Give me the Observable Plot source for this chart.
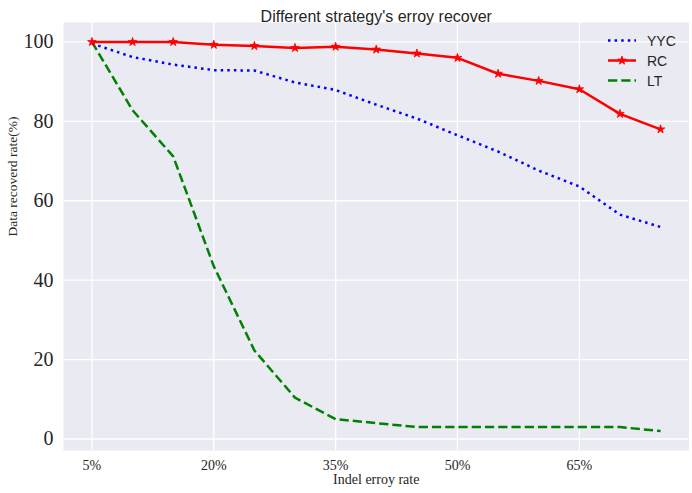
<!DOCTYPE html>
<html>
<head>
<meta charset="utf-8">
<script src="https://cdn.jsdelivr.net/npm/d3@7"></script>
<script src="https://cdn.jsdelivr.net/npm/@observablehq/plot@0.6"></script>
<style>
  html, body { margin: 0; padding: 0; background: #fff; }
  #wrap { position: relative; width: 692px; height: 493px; }
  #legend { position: absolute; left: 0; top: 0; pointer-events: none; }
</style>
</head>
<body>
<div id="wrap"></div>
<script>
const rates = [5, 10, 15, 20, 25, 30, 35, 40, 45, 50, 55, 60, 65, 70, 75];
const yyc = [99.6, 96.2, 94.3, 92.9, 92.8, 89.8, 87.9, 84.2, 80.7, 76.5, 72.4, 67.6, 63.6, 56.5, 53.4];
const rc = [100, 100, 100, 99.3, 99.0, 98.5, 98.8, 98.1, 97.1, 96.0, 92.0, 90.2, 88.1, 81.9, 78.0];
const lt = [100, 82.8, 71.2, 43.5, 22.3, 10.4, 5.0, 4.0, 3, 3, 3, 3, 3, 3, 2];
const xTicks = [5, 20, 35, 50, 65];
const yTicks = [0, 20, 40, 60, 80, 100];
const seriesNames = ["YYC", "RC", "LT"];
const seriesColors = ["#0000ff", "#ff0000", "#008000"];
const title = "Different strategy's erroy recover";
const xLabel = "Indel erroy rate";
const yLabel = "Data recoverd rate(%)";

const rows = (vals) => rates.map((r, i) => ({rate: r, value: vals[i]}));
const yycData = rows(yyc), rcData = rows(rc), ltData = rows(lt);

const serif = "'Liberation Serif', 'Times New Roman', serif";
const sans = "'Liberation Sans', Arial, sans-serif";

const chart = Plot.plot({
  width: 692,
  height: 493,
  marginLeft: 63,
  marginRight: 3.5,
  marginTop: 22,
  marginBottom: 43,
  style: {background: "#fff", overflow: "visible"},
  x: {domain: [1.5, 78.5]},
  y: {domain: [-2.9, 104.9]},
  marks: [
    Plot.frame({fill: "#EAEAF2", stroke: null}),
    Plot.gridX(xTicks, {stroke: "#fff", strokeOpacity: 1, strokeWidth: 1.3}),
    Plot.gridY(yTicks, {stroke: "#fff", strokeOpacity: 1, strokeWidth: 1.3}),
    Plot.axisX(xTicks, {tickSize: 0, tickPadding: 10, tickFormat: d => d + "%", fontSize: 14, fontFamily: serif, fill: "#262626", label: null}),
    Plot.axisY(yTicks, {tickSize: 0, tickPadding: 10, fontSize: 20, fontFamily: serif, fill: "#262626", label: null}),
    Plot.lineY(ltData, {x: "rate", y: "value", stroke: seriesColors[2], strokeWidth: 2.5, strokeDasharray: "9.25,4", strokeLinecap: "butt"}),
    Plot.lineY(yycData, {x: "rate", y: "value", stroke: seriesColors[0], strokeWidth: 2.5, strokeDasharray: "2.5,4.1", strokeLinecap: "butt"}),
    Plot.lineY(rcData, {x: "rate", y: "value", stroke: seriesColors[1], strokeWidth: 2.5}),
    Plot.dot(rcData, {x: "rate", y: "value", symbol: "star", r: 2.7, fill: seriesColors[1], stroke: seriesColors[1], strokeWidth: 0.8}),
    Plot.text([title], {frameAnchor: "top", dy: -12, fontSize: 16, fontFamily: sans, fill: "#262626"}),
    Plot.text([xLabel], {frameAnchor: "bottom", dy: 33.5, fontSize: 14, fontFamily: serif, fill: "#262626"}),
    Plot.text([yLabel], {frameAnchor: "left", dx: -51, rotate: -90, fontSize: 13.5, fontFamily: serif, fill: "#262626"})
  ]
});
const wrap = document.getElementById("wrap");
wrap.appendChild(chart);

// Legend overlay (no frame), top-right inside plot area
const lg = d3.select(wrap).append("svg").attr("id", "legend").attr("width", 692).attr("height", 493);
const dashes = ["2.5,4.1", null, "9.25,4"];
seriesNames.forEach((name, i) => {
  const y = 40.5 + i * 20;
  const g = lg.append("g");
  g.append("line").attr("x1", 608).attr("x2", 636).attr("y1", y).attr("y2", y)
    .attr("stroke", seriesColors[i]).attr("stroke-width", 2.5)
    .attr("stroke-dasharray", dashes[i]).attr("stroke-linecap", "butt");
  if (name === "RC") {
    g.append("path").attr("transform", `translate(622,${y})`)
      .attr("d", d3.symbol(d3.symbolStar, Math.PI * 2.7 * 2.7)())
      .attr("fill", seriesColors[i]).attr("stroke", seriesColors[i]).attr("stroke-width", 0.8);
  }
  g.append("text").attr("x", 647).attr("y", y).attr("dy", "0.36em")
    .attr("font-family", sans).attr("font-size", 14).attr("fill", "#262626").text(name);
});
</script>
</body>
</html>
